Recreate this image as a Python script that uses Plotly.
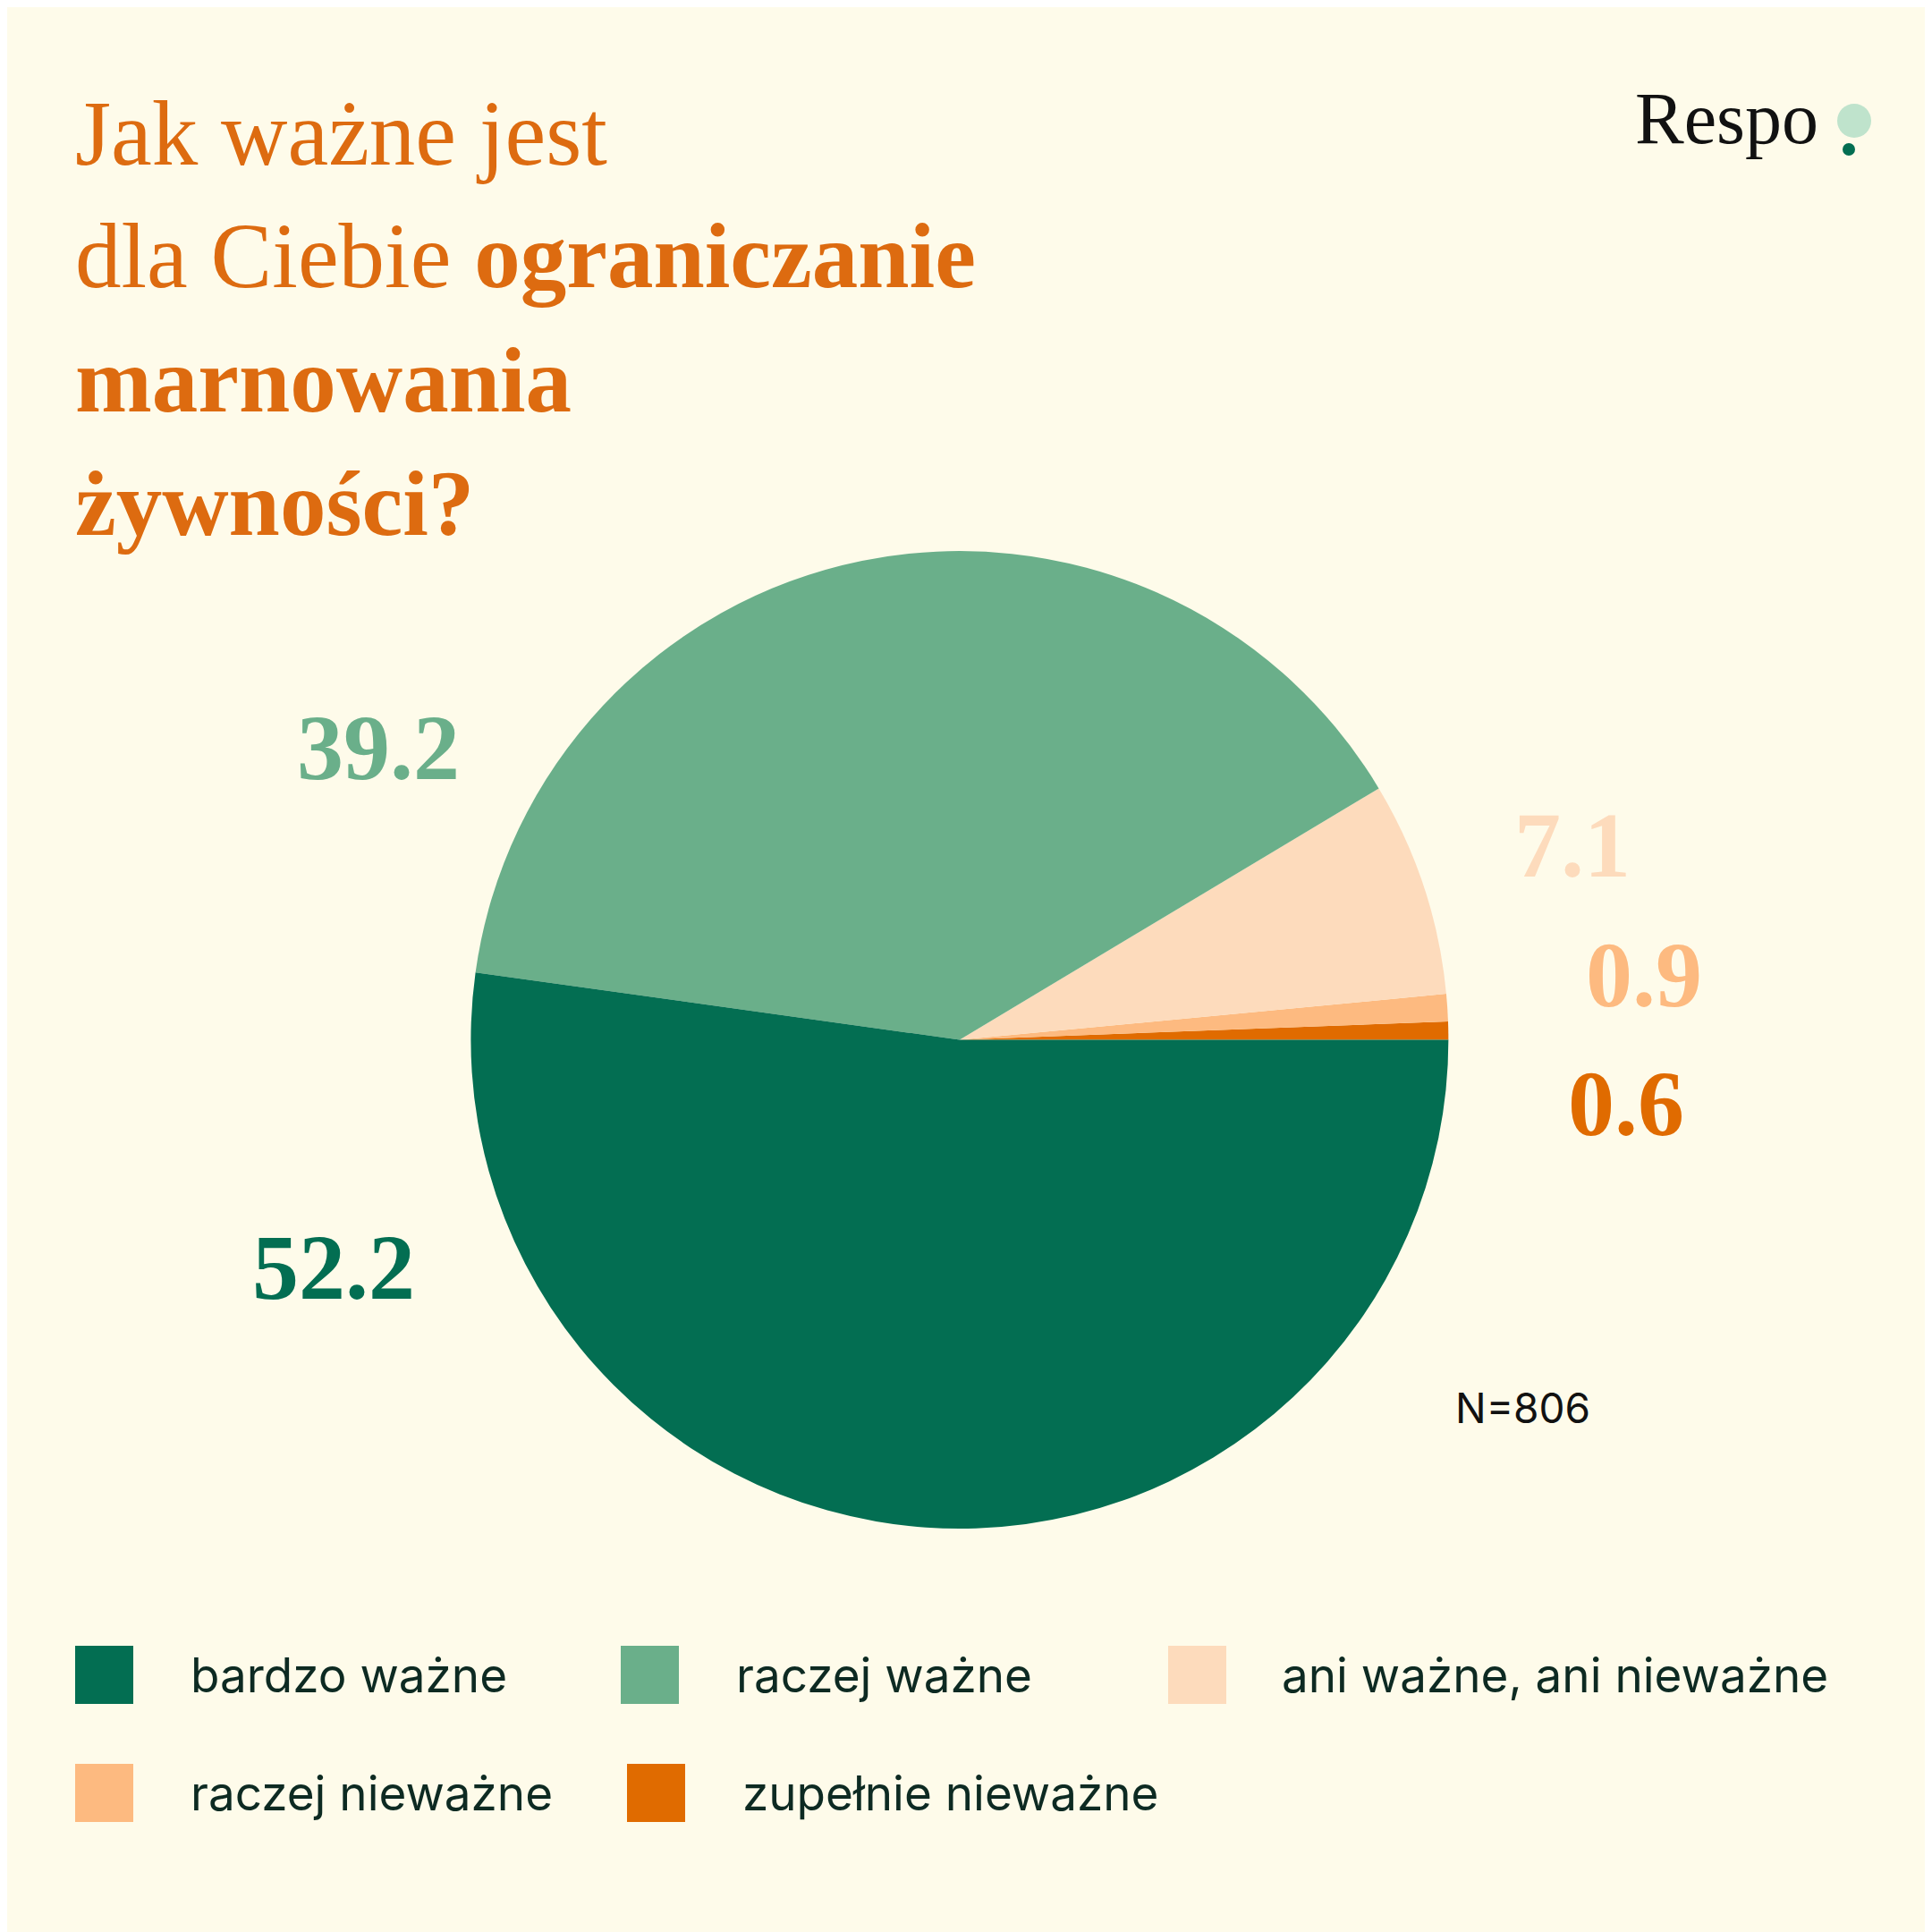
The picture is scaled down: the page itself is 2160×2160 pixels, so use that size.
import plotly.graph_objects as go

labels = ["zupełnie nieważne", "raczej nieważne", "ani ważne, ani nieważne", "raczej ważne", "bardzo ważne"]
values = [0.6, 0.9, 7.1, 39.2, 52.2]
colors = ["#e06b00", "#fdba80", "#fddbbc", "#6aaf8a", "#036e52"]
legend_order = ["bardzo ważne", "raczej ważne", "ani ważne, ani nieważne", "raczej nieważne", "zupełnie nieważne"]
label_pos = {"zupełnie nieważne": (1810, 1226), "raczej nieważne": (1830, 1081),
             "ani ważne, ani nieważne": (1750, 937), "raczej ważne": (415, 827), "bardzo ważne": (365, 1408)}

W = 2160
BG = "#fefbea"
fig = go.Figure(go.Pie(labels=labels, values=values, marker=dict(colors=colors),
                       sort=False, direction="counterclockwise", rotation=87.84,
                       textinfo="none", hoverinfo="label+value", showlegend=False,
                       domain=dict(x=[0.240, 0.746], y=[0.212, 0.719])))

def px(x, y):
    return x / W, 1 - y / W

ann = []
serif = "Liberation Serif"
title_lines = ["Jak ważne jest", "dla Ciebie <b>ograniczanie</b>", "<b>marnowania</b>", "<b>żywności?</b>"]
for i, t in enumerate(title_lines):
    x, y = px(74, 200 + i * 138)
    ann.append(dict(x=x, y=y, text=t, xanchor="left", yanchor="bottom", showarrow=False,
                    font=dict(family=serif, size=103, color="#dd6b10")))
x, y = px(1818, 172)
ann.append(dict(x=x, y=y, text="Respo", xanchor="left", yanchor="bottom", showarrow=False,
                font=dict(family=serif, size=82, color="#111")))
for lab, v, c in zip(labels, values, colors):
    x, y = px(*label_pos[lab])
    ann.append(dict(x=x, y=y, text=f"<b>{v}</b>", xanchor="center", yanchor="middle", showarrow=False,
                    font=dict(family=serif, size=104, color=c)))
x, y = px(1694, 1566)
ann.append(dict(x=x, y=y, text="N=806", xanchor="center", yanchor="middle", showarrow=False,
                font=dict(family="Inter", size=46, color="#111")))

shapes = []
shapes.append(dict(type="circle", xref="paper", yref="paper",
                   x0=2046 / W, x1=2084 / W, y0=1 - 146 / W, y1=1 - 108 / W, fillcolor="#bfe3cc", line_width=0))
shapes.append(dict(type="circle", xref="paper", yref="paper",
                   x0=2052 / W, x1=2066 / W, y0=1 - 166 / W, y1=1 - 152 / W, fillcolor="#036e52", line_width=0))

leg_pos = [(76, 203, 1832), (686, 813, 1832), (1298, 1423, 1832), (76, 203, 1964), (693, 820, 1964)]
cmap = dict(zip(labels, colors))
for lab, (sx, tx, sy) in zip(legend_order, leg_pos):
    shapes.append(dict(type="rect", xref="paper", yref="paper", x0=sx / W, x1=(sx + 65) / W,
                       y0=1 - (sy + 65) / W, y1=1 - sy / W, fillcolor=cmap[lab], line_width=0))
    x, y = px(tx, sy + 33)
    ann.append(dict(x=x, y=y, text=lab, xanchor="left", yanchor="middle", showarrow=False,
                    font=dict(family="Inter", size=53, color="#0d2a22")))

fig.update_layout(width=W, height=W, margin=dict(l=0, r=0, t=0, b=0),
                  paper_bgcolor=BG, plot_bgcolor=BG, annotations=ann, shapes=shapes)
fig.write_html("out.html")
